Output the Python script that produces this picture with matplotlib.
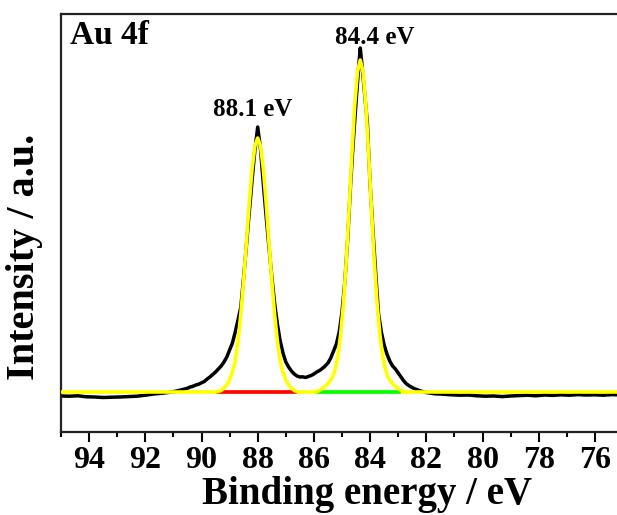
import numpy as np
import matplotlib.pyplot as plt
from matplotlib.ticker import MultipleLocator

plt.rcParams['font.family'] = ['Liberation Serif', 'DejaVu Serif']
plt.rcParams['font.weight'] = 'bold'

# measured spectrum (binding energy in eV, intensity in a.u.)
energy = [95.0, 94.7, 94.4, 94.1, 93.8, 93.5, 93.2, 92.9, 92.6, 92.3, 92.0,
          91.7, 91.4, 91.1, 90.8, 90.5, 90.4, 90.3, 90.2, 90.1, 90.0, 89.9,
          89.8, 89.7, 89.6, 89.5, 89.4, 89.3, 89.2, 89.1, 89.0, 88.9, 88.8,
          88.7, 88.6, 88.5, 88.4, 88.3, 88.2, 88.1, 88.0, 87.9, 87.8, 87.7,
          87.6, 87.5, 87.4, 87.3, 87.2, 87.1, 87.0, 86.9, 86.8, 86.7, 86.6,
          86.5, 86.4, 86.3, 86.2, 86.1, 86.0, 85.9, 85.8, 85.7, 85.6, 85.5,
          85.4, 85.3, 85.2, 85.1, 85.0, 84.9, 84.8, 84.7, 84.6, 84.5, 84.4,
          84.35, 84.3, 84.2, 84.1, 84.0, 83.9, 83.8, 83.7, 83.6, 83.5, 83.4,
          83.3, 83.2, 83.1, 83.0, 82.9, 82.8, 82.7, 82.6, 82.5, 82.4, 82.2,
          82.0, 81.7, 81.4, 81.1, 80.8, 80.5, 80.2, 79.9, 79.6, 79.3, 79.0,
          78.7, 78.4, 78.1, 77.8, 77.5, 77.2, 76.9, 76.6, 76.3, 76.0, 75.7,
          75.4, 75.0]
intensity = [-0.40, -0.42, -0.38, -0.48, -0.50, -0.55, -0.52, -0.50, -0.46, -0.42, -0.32,
             -0.20, -0.12, -0.02, 0.15, 0.38, 0.50, 0.58, 0.70, 0.78, 0.92, 1.05,
             1.30, 1.50, 1.75, 2.00, 2.30, 2.60, 3.00, 3.50, 4.20, 4.90, 6.00,
             7.20, 8.50, 11.5, 14.7, 18.0, 21.2, 24.2, 26.5, 24.3, 20.8, 17.6,
             14.5, 11.6, 8.90, 6.80, 5.10, 3.90, 3.00, 2.50, 2.10, 1.80, 1.60,
             1.50, 1.52, 1.45, 1.55, 1.65, 1.80, 2.00, 2.15, 2.35, 2.60, 2.90,
             3.40, 4.10, 4.80, 6.00, 8.00, 11.0, 15.2, 20.5, 25.0, 29.0, 32.8,
             34.4, 33.0, 30.0, 27.0, 20.8, 16.2, 11.8, 7.80, 6.00, 4.70, 3.80,
             3.10, 2.60, 2.30, 1.90, 1.50, 1.10, 0.80, 0.60, 0.45, 0.30, 0.10,
             -0.05, -0.18, -0.22, -0.28, -0.32, -0.30, -0.38, -0.42, -0.40, -0.46, -0.40,
             -0.36, -0.32, -0.38, -0.30, -0.34, -0.28, -0.32, -0.26, -0.30, -0.28, -0.32,
             -0.26, -0.30]

# fitted Au 4f7/2 and 4f5/2 components
fit1_energy = [89.5, 89.4, 89.3, 89.2, 89.1, 89.0, 88.9, 88.8, 88.7, 88.6, 88.5,
               88.4, 88.3, 88.2, 88.1, 88.0, 87.9, 87.8, 87.7, 87.6, 87.5, 87.4,
               87.3, 87.2, 87.1, 87.0, 86.9, 86.8, 86.7, 86.6, 86.5]
fit1_intensity = [0.0, 0.05, 0.15, 0.40, 0.70, 1.20, 2.00, 3.10, 5.10, 7.80, 11.2,
                  15.0, 18.9, 22.3, 24.6, 25.4, 24.6, 22.3, 18.9, 15.0, 11.2, 7.80,
                  5.10, 3.10, 2.00, 1.20, 0.70, 0.40, 0.15, 0.05, 0.0]
fit2_energy = [85.95, 85.85, 85.75, 85.65, 85.55, 85.45, 85.35, 85.25, 85.15, 85.05,
               84.95, 84.85, 84.75, 84.65, 84.55, 84.45, 84.35, 84.25, 84.15, 84.05,
               83.95, 83.85, 83.75, 83.65, 83.55, 83.45, 83.35, 83.25, 83.15, 83.05,
               82.95, 82.85, 82.75]
fit2_intensity = [0.0, 0.10, 0.25, 0.45, 0.70, 1.00, 1.40, 2.20, 3.50, 5.70,
                  8.80, 13.0, 18.2, 23.7, 28.6, 32.0, 33.2, 32.0, 28.6, 23.7,
                  18.2, 13.0, 8.80, 5.70, 3.50, 2.20, 1.40, 1.00, 0.70, 0.45,
                  0.25, 0.10, 0.0]
base_energy = [95.0, 75.0]
base_intensity = [0.0, 0.0]
red_energy = [89.42, 86.68]
green_energy = [85.84, 82.97]

peak_labels = ['88.1 eV', '84.4 eV']
label_x = [88.18, 83.82]
label_y = [28.3, 35.4]

fig = plt.figure(figsize=(6.17, 5.15), dpi=100)
ax = fig.add_axes([61/617, 1 - 432/515, 562/617, 418/515])

ax.plot(energy, intensity, color='black', lw=2.5, zorder=2)
ax.plot(base_energy, base_intensity, color='#ffff00', lw=2.6, zorder=3)
ax.plot(red_energy, [0, 0], color='#ff0000', lw=2.6, zorder=4)
ax.plot(green_energy, [0, 0], color='#00ff00', lw=2.6, zorder=4)
ax.plot(fit1_energy, fit1_intensity, color='#ffff00', lw=2.6, zorder=5)
ax.plot(fit2_energy, fit2_intensity, color='#ffff00', lw=2.6, zorder=5)

for txt, xx, yy in zip(peak_labels, label_x, label_y):
    ax.text(xx, yy, txt, ha='center', va='center', fontsize=18, fontweight='bold')
ax.text(0.016, 0.985, 'Au 4f', transform=ax.transAxes, ha='left', va='top',
        fontsize=24, fontweight='bold')

ax.set_xlim(95, 75)
ax.set_ylim(-4.0, 37.8)
ax.xaxis.set_major_locator(MultipleLocator(2))
ax.xaxis.set_minor_locator(MultipleLocator(1))
ax.tick_params(axis='x', which='major', direction='out', length=7, width=1.5,
               labelsize=23, pad=3)
ax.tick_params(axis='x', which='minor', direction='out', length=3.5, width=1.5)
ax.set_yticks([])
for sp in ax.spines.values():
    sp.set_linewidth(1.6)
    sp.set_color('#222222')

ax.set_xlabel('Binding energy / eV', fontsize=28, fontweight='bold')
ax.set_ylabel('Intensity / a.u.', fontsize=29, fontweight='bold')
ax.xaxis.set_label_coords(0.545, -0.105)
ax.yaxis.set_label_coords(-0.032, 0.42)

fig.savefig('out.png', dpi=100)
